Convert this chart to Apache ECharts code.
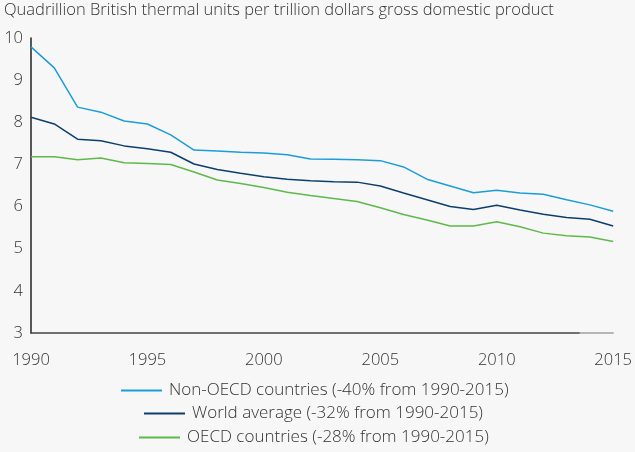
<!DOCTYPE html>
<html><head><meta charset="utf-8">
<script src="https://cdn.jsdelivr.net/npm/echarts@6/dist/echarts.min.js"></script>
<style>html,body{margin:0;padding:0;background:#f7f7f7;}#c{width:635px;height:452px;}</style>
</head><body><div id="c"></div>
<script>
const years = [1990,1991,1992,1993,1994,1995,1996,1997,1998,1999,2000,2001,2002,2003,2004,2005,2006,2007,2008,2009,2010,2011,2012,2013,2014,2015];
const nonOecd = [9.79,9.29,8.36,8.24,8.03,7.96,7.70,7.34,7.32,7.29,7.27,7.23,7.13,7.12,7.11,7.09,6.94,6.65,6.49,6.33,6.39,6.32,6.29,6.16,6.04,5.89];
const world = [8.12,7.96,7.60,7.56,7.44,7.37,7.29,7.01,6.88,6.79,6.71,6.65,6.61,6.59,6.58,6.49,6.32,6.16,6.00,5.93,6.03,5.92,5.82,5.74,5.70,5.54];
const oecd = [7.18,7.18,7.11,7.15,7.04,7.02,7.00,6.82,6.63,6.55,6.45,6.34,6.26,6.19,6.12,5.97,5.81,5.68,5.54,5.54,5.64,5.52,5.37,5.31,5.28,5.17];
const seriesNames = ['Non-OECD countries (-40% from 1990-2015)','World average (-32% from 1990-2015)','OECD countries (-28% from 1990-2015)'];
const colors = ['#1b9ddb','#0c3f6f','#5fb94a'];
const titleText = 'Quadrillion British thermal units per trillion dollars gross domestic product';

const font = "'Open Sans', sans-serif";
const pair = arr => years.map((y,i)=>[y,arr[i]]);
const chart = echarts.init(document.getElementById('c'));
const legendLefts = [121,144,139];
const legendTops = [382,405,429];
chart.setOption({
  backgroundColor:'#f7f7f7',
  animation:false,
  title:{text:titleText,left:4,top:2,padding:0,textStyle:{fontFamily:font,fontWeight:300,fontSize:16.5,color:'#333'}},
  grid:{left:31,right:20,top:38,bottom:119,containLabel:false},
  legend: seriesNames.map((n,i)=>({data:[n],left:legendLefts[i],top:legendTops[i],padding:0,itemWidth:41,itemHeight:2,icon:'rect',itemGap:0,
    textStyle:{fontFamily:font,fontWeight:300,fontSize:17,color:'#333',padding:[0,0,0,2]}})),
  xAxis:{type:'value',min:1990,max:2015,interval:5,
    axisLine:{show:true,lineStyle:{width:1.5,color:new echarts.graphic.LinearGradient(0,0,1,0,[
      {offset:0,color:'#444'},{offset:0.938,color:'#444'},{offset:0.939,color:'#a0a0a0'},{offset:1,color:'#a0a0a0'}])}},
    axisTick:{show:false},splitLine:{show:false},
    axisLabel:{formatter:v=>String(v),fontFamily:font,fontWeight:300,fontSize:16.5,color:'#333',margin:19}},
  yAxis:{type:'value',min:3,max:10,interval:1,
    axisLine:{show:true,lineStyle:{color:'#222',width:1.5}},axisTick:{show:false},splitLine:{show:false},
    axisLabel:{fontFamily:font,fontWeight:300,fontSize:16.5,color:'#333',margin:8}},
  series:[
    {name:seriesNames[0],type:'line',data:pair(nonOecd),symbol:'none',lineStyle:{color:colors[0],width:1.5},itemStyle:{color:colors[0]}},
    {name:seriesNames[1],type:'line',data:pair(world),symbol:'none',lineStyle:{color:colors[1],width:1.5},itemStyle:{color:colors[1]}},
    {name:seriesNames[2],type:'line',data:pair(oecd),symbol:'none',lineStyle:{color:colors[2],width:1.5},itemStyle:{color:colors[2]}}
  ]
});
</script></body></html>
